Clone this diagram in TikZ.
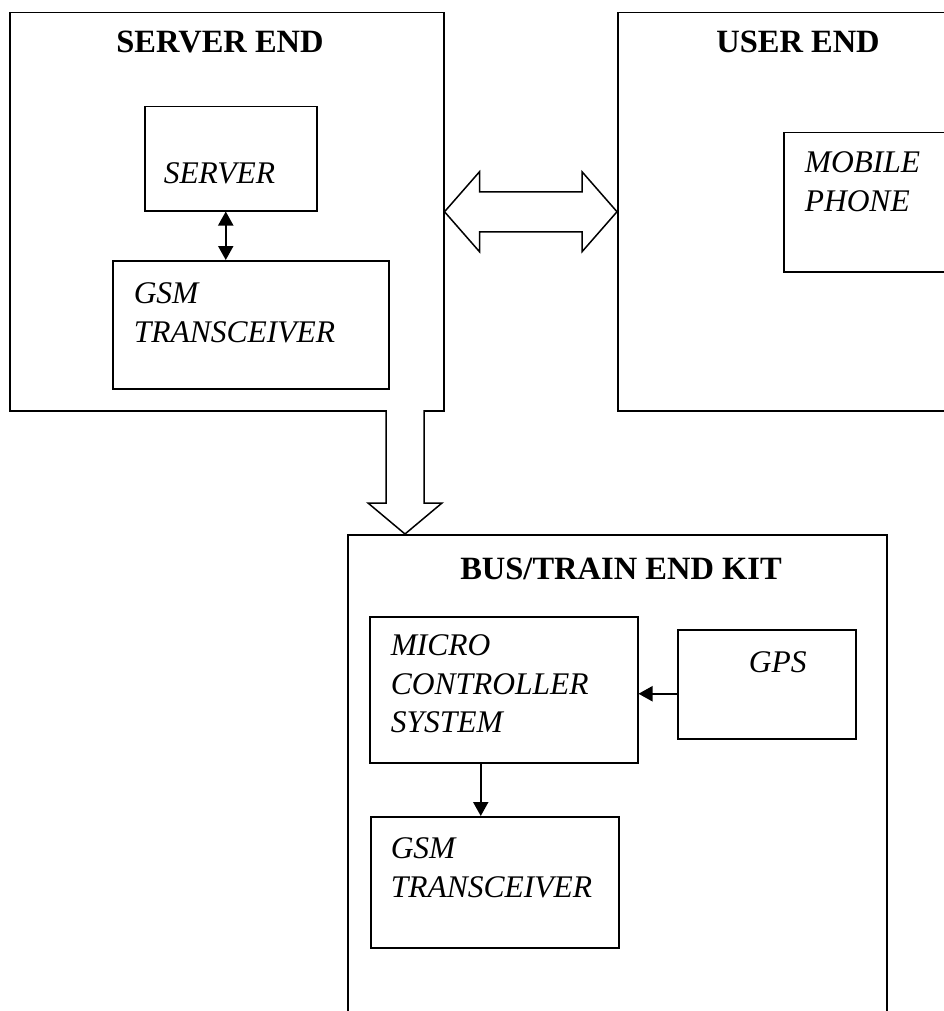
\documentclass[tikz,border=0pt]{standalone}
\usepackage{fontspec}
\setmainfont{Liberation Serif}
\usetikzlibrary{arrows.meta,calc}

\begin{document}
\begin{tikzpicture}[
            x = 1pt, y = -1pt, % pixel units, y grows downwards
            > = {Triangle[length=14pt,width=15pt]}, % arrow head style
            line width = 1.5pt, % line style
            box/.style = {draw, rectangle, anchor=north west, inner sep=0pt},
            title/.style = {anchor=base, font=\fontsize{32.5}{38}\selectfont\bfseries},
            txt/.style = {anchor=north west, align=left, inner sep=0pt, font=\fontsize{31.5}{38.5}\selectfont\itshape},
            link/.style = {line width=2pt},
            bigarrow/.style = {draw, fill=white, line join=miter}
        ]

	\useasboundingbox (0,0) rectangle (944,1011);
	\clip (0,0) rectangle (944,1011);

	% the three ends
	\node[box, minimum width=434pt, minimum height=398pt] (srvend) at (9,12) {};
	\node[box, minimum width=400pt, minimum height=398pt] (usrend) at (617,12) {};
	\node[box, minimum width=539pt, minimum height=520pt] (buskit) at (347,534) {};

	\node[title] (srvendlbl) at (220,53) {SERVER END};
	\node[title] (usrendlbl) at (798,53) {USER END};
	\node[title] (buskitlbl) at (621,579) {BUS/TRAIN END KIT};

	% server end
	\node[box, minimum width=172pt, minimum height=104pt] (server) at (144,106) {};
	\node[box, minimum width=276pt, minimum height=128pt] (gsmsrv) at (112,260) {};
	\node[txt] (serverlbl) at (163,162) {SERVER};
	\node[txt] (gsmsrvlbl) at (133,282) {GSM\\TRANSCEIVER};

	% user end
	\node[box, minimum width=250pt, minimum height=139pt] (mobile) at (783,132) {};
	\node[txt] (mobilelbl) at (804,151) {MOBILE\\PHONE};

	% bus/train end
	\node[box, minimum width=268pt, minimum height=146pt] (micro) at (369,616) {};
	\node[box, minimum width=178pt, minimum height=109pt] (gps) at (677,629) {};
	\node[box, minimum width=248pt, minimum height=131pt] (gsmbus) at (370,816) {};
	\node[txt] (microlbl) at (390,634) {MICRO\\CONTROLLER\\SYSTEM};
	\node[txt] (gpslbl) at (748,651) {GPS};
	\node[txt] (gsmbuslbl) at (390,837) {GSM\\TRANSCEIVER};

	% links
	\draw[link,<->] ([xshift=-5pt]server.south) -- ([xshift=-5pt]server.south |- gsmsrv.north);
	\draw[link,->] ([yshift=-4pt]gps.west |- micro.east) -- ([yshift=-4pt]micro.east);
	\draw[link,->] ([xshift=-23pt]micro.south) -- ([xshift=-23pt]micro.south |- gsmbus.north);

	% block arrows
	\draw[bigarrow] (srvend.east) -- ++(35,-40) -- ++(0,20) -- ($(usrend.west)+(-35,-20)$)
		-- ++(0,-20) -- (usrend.west) -- ++(-35,40) -- ++(0,-20)
		-- ($(srvend.east)+(35,20)$) -- ++(0,20) -- cycle;

	\coordinate (dntop) at (405,410);
	\coordinate (dntip) at (dntop |- buskit.north);
	\draw[bigarrow] ($(dntop)+(-19,0)$) -- ($(dntip)+(-19,-31)$) -- ($(dntip)+(-37,-31)$)
		-- (dntip) -- ($(dntip)+(37,-31)$) -- ($(dntip)+(19,-31)$) -- ($(dntop)+(19,0)$);

\end{tikzpicture}
\end{document}
